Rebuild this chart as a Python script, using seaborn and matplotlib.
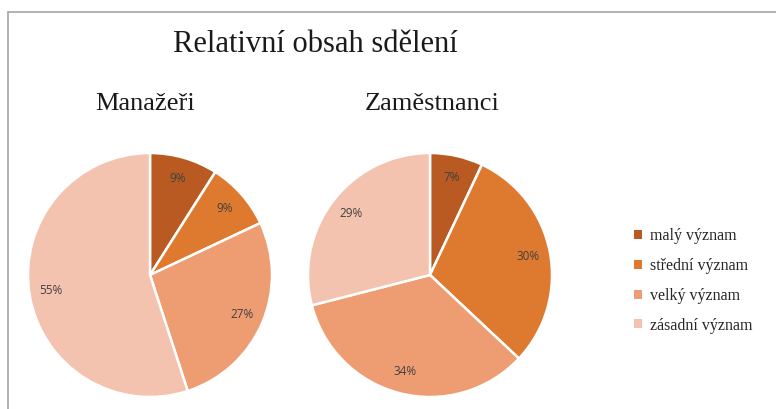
import matplotlib
matplotlib.use("Agg")
import matplotlib.pyplot as plt
from matplotlib.lines import Line2D
from matplotlib.patches import Patch
import seaborn as sns

sns.set_theme(style="white")
plt.rcParams['font.family'] = ['Liberation Serif', 'DejaVu Serif']

categories = ["malý význam", "střední význam", "velký význam", "zásadní význam"]
manazeri = [9, 9, 27, 55]
zamestnanci = [7, 30, 34, 29]
titles = ["Manažeři", "Zaměstnanci"]
colors = ["#B85A22", "#DE7A30", "#EE9C71", "#F4C3AF"]

fig = plt.figure(figsize=(7.76, 4.09), dpi=100)
W, H = 776, 409
r = 122

def add_pie(cx, cy, vals, title, tx):
    ax = fig.add_axes([(cx - r) / W, (H - cy - r) / H, 2 * r / W, 2 * r / H])
    wedges, texts, autotexts = ax.pie(
        vals, colors=colors, startangle=90, counterclock=False,
        autopct=lambda p: f"{p:.0f}%", pctdistance=0.82,
        wedgeprops=dict(edgecolor="white", linewidth=1.8),
        textprops=dict(family=['Open Sans', 'DejaVu Sans'], fontsize=8.5, color="#404040"))
    ax.set_xlim(-1.0, 1.0)
    ax.set_ylim(-1.0, 1.0)
    ax.set_aspect("equal")
    ax.axis("off")
    fig.text(tx / W, 1 - 104 / H, title, ha="center", va="center", fontsize=19, color="#1a1a1a")
    return wedges

add_pie(150, 275, manazeri, titles[0], 145)
add_pie(430, 275, zamestnanci, titles[1], 432)

fig.text(315 / W, 1 - 45 / H, "Relativní obsah sdělení", ha="center", va="center",
         fontsize=22, color="#1a1a1a")

handles = [Patch(facecolor=c, edgecolor="none") for c in colors]
fig.legend(handles, categories, loc="center left", bbox_to_anchor=(620 / W, 1 - 281 / H),
           frameon=False, fontsize=11.5, handlelength=0.5, handleheight=0.5,
           handletextpad=0.45, labelspacing=0.86)

fig.add_artist(Line2D([7.5 / W, 1], [1 - 11.5 / H, 1 - 11.5 / H], color="#A6A6A6", lw=1.2))
fig.add_artist(Line2D([7.5 / W, 7.5 / W], [0, 1 - 11.5 / H], color="#A6A6A6", lw=1.2))

fig.savefig("out.png", dpi=100)
